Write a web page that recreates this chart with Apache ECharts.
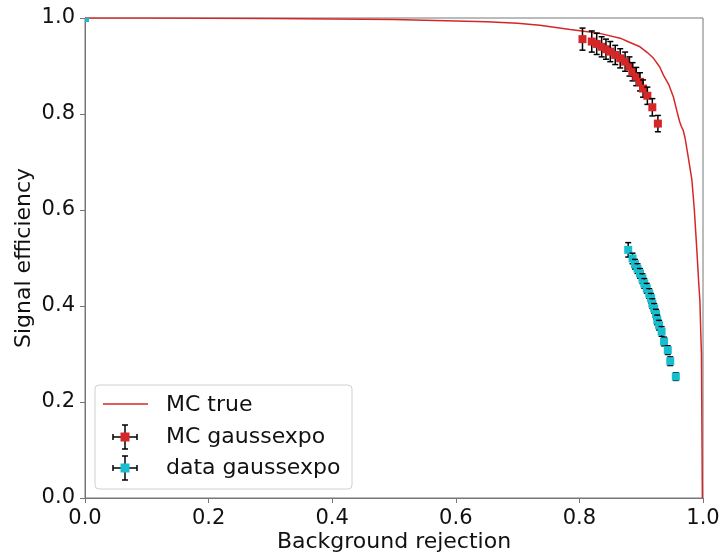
<!DOCTYPE html>
<html>
<head>
<meta charset="utf-8">
<script src="https://cdn.jsdelivr.net/npm/echarts@6/dist/echarts.min.js"></script>
<style>html,body{margin:0;padding:0;background:#fff;}#c{width:720px;height:555px;}</style>
</head>
<body>
<div id="c"></div>
<script>
// MC true ROC curve
const trueX = [0, 0.1, 0.2, 0.3, 0.4, 0.5, 0.6, 0.65, 0.7, 0.736, 0.785, 0.833, 0.866, 0.88, 0.898, 0.91, 0.92, 0.93, 0.936, 0.945, 0.952, 0.958, 0.962, 0.965, 0.968, 0.971, 0.976, 0.982, 0.986, 0.990, 0.993, 0.995, 0.9965, 0.9975, 0.998, 0.9985, 0.999];
const trueY = [1.0, 1.0, 0.9995, 0.999, 0.998, 0.997, 0.994, 0.992, 0.989, 0.985, 0.976, 0.968, 0.958, 0.950, 0.940, 0.928, 0.916, 0.898, 0.881, 0.860, 0.836, 0.805, 0.785, 0.774, 0.766, 0.750, 0.711, 0.663, 0.600, 0.517, 0.450, 0.410, 0.340, 0.300, 0.200, 0.100, 0.0];

// MC gaussexpo
const mcX = [0.805, 0.820, 0.828, 0.836, 0.843, 0.850, 0.858, 0.866, 0.874, 0.881, 0.886, 0.892, 0.898, 0.903, 0.910, 0.918, 0.927];
const mcY = [0.956, 0.951, 0.946, 0.940, 0.935, 0.930, 0.923, 0.916, 0.909, 0.899, 0.888, 0.878, 0.867, 0.853, 0.838, 0.814, 0.780];
const mcXErr = [0.004, 0.004, 0.004, 0.004, 0.004, 0.004, 0.004, 0.004, 0.004, 0.004, 0.004, 0.004, 0.004, 0.004, 0.004, 0.004, 0.004];
const mcYErr = [0.023, 0.022, 0.022, 0.021, 0.021, 0.021, 0.020, 0.020, 0.020, 0.020, 0.019, 0.019, 0.019, 0.018, 0.018, 0.018, 0.017];

// data gaussexpo
const dataX = [0.0, 0.879, 0.886, 0.890, 0.894, 0.898, 0.902, 0.905, 0.909, 0.913, 0.916, 0.918, 0.921, 0.924, 0.926, 0.929, 0.933, 0.937, 0.943, 0.947, 0.956];
const dataY = [1.0, 0.517, 0.499, 0.487, 0.478, 0.468, 0.457, 0.447, 0.437, 0.426, 0.416, 0.405, 0.395, 0.383, 0.371, 0.360, 0.347, 0.326, 0.308, 0.285, 0.253];
const dataXErr = [0, 0.004, 0.004, 0.004, 0.004, 0.004, 0.004, 0.004, 0.004, 0.004, 0.004, 0.004, 0.004, 0.004, 0.004, 0.004, 0.004, 0.004, 0.004, 0.004, 0.004];
const dataYErr = [0, 0.015, 0.011, 0.010, 0.010, 0.010, 0.010, 0.010, 0.010, 0.010, 0.010, 0.010, 0.010, 0.010, 0.010, 0.010, 0.010, 0.009, 0.009, 0.009, 0.008];

const legendNames = ['MC true', 'MC gaussexpo', 'data gaussexpo'];

const RED = '#d62728', CYAN = '#17becf', AXC = '#777', TXT = '#111';
const FONT = 'DejaVu Sans';

function errRender(color, size) {
  return function (params, api) {
    const x = api.value(0), y = api.value(1), xe = api.value(2), ye = api.value(3);
    const c = api.coord([x, y]);
    const cs = params.coordSys;
    const box = {x: cs.x, y: cs.y, width: cs.width, height: cs.height};
    const children = [];
    const ls = {stroke: '#000', lineWidth: 1.5};
    const cap = 3;
    if (ye > 0) {
      const t = api.coord([x, y + ye]), b = api.coord([x, y - ye]);
      children.push({type: 'line', shape: {x1: c[0], y1: t[1], x2: c[0], y2: b[1]}, style: ls});
      children.push({type: 'line', shape: {x1: c[0] - cap, y1: t[1], x2: c[0] + cap, y2: t[1]}, style: ls});
      children.push({type: 'line', shape: {x1: c[0] - cap, y1: b[1], x2: c[0] + cap, y2: b[1]}, style: ls});
    }
    if (xe > 0) {
      const l = api.coord([x - xe, y]), r = api.coord([x + xe, y]);
      children.push({type: 'line', shape: {x1: l[0], y1: c[1], x2: r[0], y2: c[1]}, style: ls});
      children.push({type: 'line', shape: {x1: l[0], y1: c[1] - cap, x2: l[0], y2: c[1] + cap}, style: ls});
      children.push({type: 'line', shape: {x1: r[0], y1: c[1] - cap, x2: r[0], y2: c[1] + cap}, style: ls});
    }
    const rect = echarts.graphic.clipRectByRect({x: c[0] - size / 2, y: c[1] - size / 2, width: size, height: size}, box);
    if (rect) children.push({type: 'rect', shape: rect, style: {fill: color}});
    return {type: 'group', children: children};
  };
}

const chart = echarts.init(document.getElementById('c'), null, {renderer: 'canvas'});

function legendErr(cx, cy, color) {
  const s = {stroke: '#000', lineWidth: 1.5};
  const hx = 12, vy = 12, cp = 3;
  return [
    {type: 'line', z: 12, shape: {x1: cx - hx, y1: cy, x2: cx + hx, y2: cy}, style: s},
    {type: 'line', z: 12, shape: {x1: cx - hx, y1: cy - cp, x2: cx - hx, y2: cy + cp}, style: s},
    {type: 'line', z: 12, shape: {x1: cx + hx, y1: cy - cp, x2: cx + hx, y2: cy + cp}, style: s},
    {type: 'line', z: 12, shape: {x1: cx, y1: cy - vy, x2: cx, y2: cy + vy}, style: s},
    {type: 'line', z: 12, shape: {x1: cx - cp, y1: cy - vy, x2: cx + cp, y2: cy - vy}, style: s},
    {type: 'line', z: 12, shape: {x1: cx - cp, y1: cy + vy, x2: cx + cp, y2: cy + vy}, style: s},
    {type: 'rect', z: 13, shape: {x: cx - 4.5, y: cy - 4.5, width: 9, height: 9}, style: {fill: color}}
  ];
}

const legFont = '22px "DejaVu Sans"';
const option = {
  animation: false,
  backgroundColor: '#fff',
  grid: {left: 85, right: 17, top: 18, bottom: 57, containLabel: false, outerBoundsMode: 'none', show: true, borderColor: AXC, borderWidth: 1, backgroundColor: 'transparent'},
  xAxis: {
    type: 'value', min: 0, max: 1, interval: 0.2,
    name: 'Background rejection', nameLocation: 'middle', nameGap: 33, nameMoveOverlap: false,
    nameTextStyle: {fontFamily: FONT, fontSize: 22, color: TXT},
    axisLine: {show: true, lineStyle: {color: AXC, width: 1}},
    axisTick: {show: true, inside: false, length: 5, lineStyle: {color: AXC}},
    axisLabel: {fontFamily: FONT, fontSize: 21, color: TXT, margin: 10, formatter: v => v.toFixed(1)},
    splitLine: {show: false}
  },
  yAxis: {
    type: 'value', min: 0, max: 1, interval: 0.2,
    name: 'Signal efficiency', nameLocation: 'middle', nameGap: 50, nameMoveOverlap: false,
    nameTextStyle: {fontFamily: FONT, fontSize: 22, color: TXT},
    axisLine: {show: true, lineStyle: {color: AXC, width: 1}},
    axisTick: {show: true, inside: false, length: 5, lineStyle: {color: AXC}},
    axisLabel: {fontFamily: FONT, fontSize: 21, color: TXT, margin: 10, formatter: v => v.toFixed(1)},
    splitLine: {show: false}
  },
  series: [
    {
      name: legendNames[0], type: 'line', showSymbol: false, clip: true,
      data: trueX.map((x, i) => [x, trueY[i]]),
      lineStyle: {color: RED, width: 1.5}, z: 2
    },
    {
      name: legendNames[1], type: 'custom', renderItem: errRender(RED, 8),
      encode: {x: 0, y: 1},
      data: mcX.map((x, i) => [x, mcY[i], mcXErr[i], mcYErr[i]]), z: 3
    },
    {
      name: legendNames[2], type: 'custom', renderItem: errRender(CYAN, 8),
      encode: {x: 0, y: 1},
      data: dataX.map((x, i) => [x, dataY[i], dataXErr[i], dataYErr[i]]), z: 4
    }
  ],
  graphic: [
    {type: 'rect', shape: {x: 95, y: 385, width: 257, height: 104, r: 4}, style: {fill: 'rgba(255,255,255,0.8)', stroke: '#d0d0d0', lineWidth: 1}, z: 10},
    {type: 'line', shape: {x1: 103, y1: 404, x2: 148, y2: 404}, style: {stroke: RED, lineWidth: 1.5}, z: 12},
    {type: 'text', x: 166, y: 405, style: {text: legendNames[0], font: legFont, fill: TXT, verticalAlign: 'middle'}, z: 12},
    ...legendErr(125, 437, RED),
    {type: 'text', x: 166, y: 437, style: {text: legendNames[1], font: legFont, fill: TXT, verticalAlign: 'middle'}, z: 12},
    ...legendErr(125, 468, CYAN),
    {type: 'text', x: 166, y: 468, style: {text: legendNames[2], font: legFont, fill: TXT, verticalAlign: 'middle'}, z: 12}
  ]
};
chart.setOption(option);
</script>
</body>
</html>
